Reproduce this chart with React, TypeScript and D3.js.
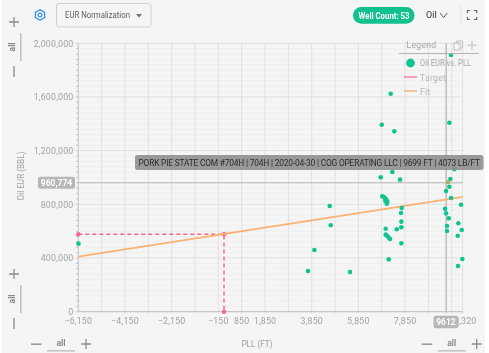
import React from "react";
import * as d3 from "d3";

const xDomain = [-6150, 10320];
const yDomain = [0, 2000000];
const xTickLabels = [-6150, -4150, -2150, -150, 850, 1850, 3850, 5850, 7850, 10320];
const xGridValues = [-5150, -4150, -3150, -2150, -1150, -150, 850, 1850, 2850, 3850, 4850, 5850, 6850, 7850, 8850, 9850];
const yTickLabels = [0, 400000, 800000, 1200000, 1600000, 2000000];
const wellPll = [-6141, 3693, 3963, 4623, 4665, 5492, 7236, 6851, 7391, 9820, 9747, 7305, 6808, 7635, 9962, 9790, 9692, 9747, 9606, 6876, 6962, 7035, 7005, 7091, 7065, 9820, 10249, 7708, 9563, 9606, 7678, 9722, 7691, 10133, 9649, 7691, 7022, 7493, 10279, 9649, 10107, 7022, 7091, 7151, 7206, 7691, 7151, 10304, 10120];
const wellEur = [507000, 303000, 460000, 788000, 644000, 296000, 1624000, 1393000, 1344000, 1913000, 1408000, 1041000, 1001000, 984000, 1061000, 989000, 966000, 931000, 899000, 860000, 852000, 838000, 827000, 820000, 805000, 847000, 797000, 773000, 767000, 733000, 735000, 696000, 671000, 659000, 639000, 629000, 618000, 614000, 609000, 601000, 566000, 574000, 564000, 551000, 542000, 510000, 390000, 393000, 341000];
const hoveredIndex = 16;
const fitPll = [-6150, 10320];
const fitEur = [410000, 855000];
const targetPll = 93;
const targetEur = 577000;
const crossPll = 9612;
const crossEur = 960774;
const tooltipText = "PORK PIE STATE COM #704H | 704H | 2020-04-30 | COG OPERATING LLC | 9699 FT | 4073 LB/FT";

const X0 = 78.3, X1 = 462.7, Y0 = 311.7, Y1 = 43.3;
const x = d3.scaleLinear().domain(xDomain).range([X0, X1]);
const y = d3.scaleLinear().domain(yDomain).range([Y0, Y1]);
const fmt = d3.format(",");
const font = "Roboto, sans-serif";
const GREEN = "#10c492", PINK = "#f8658c", ORANGE = "#fbb270";

const fitLine = d3.line<number>().x((d) => x(d)).y((_, i) => y(fitEur[i]));
const minorY = d3.range(0, 2000001, 40000);

function Plus({ cx, cy }: { cx: number; cy: number }) {
  return <path d={`M${cx - 5} ${cy}H${cx + 5}M${cx} ${cy - 5}V${cy + 5}`} stroke="#8d8d8d" strokeWidth={1.3} fill="none" />;
}

function VZoom({ top }: { top: number }) {
  return (
    <g>
      <Plus cx={14} cy={top} />
      <text transform={`translate(15,${top + 25}) rotate(-90)`} textAnchor="middle" fontSize={8.5} fontWeight={500} fill="#777" fontFamily={font}>all</text>
      <rect x={20} y={top + 11} width={1.6} height={28} fill="#c4c4c4" />
      <rect x={13.2} y={top + 44} width={1.6} height={11} fill="#9a9a9a" />
    </g>
  );
}

function HZoom({ left }: { left: number }) {
  return (
    <g>
      <rect x={left} y={343.4} width={10.5} height={1.6} fill="#9a9a9a" />
      <text x={left + 30} y={346} textAnchor="middle" fontSize={8.5} fontWeight={500} fill="#777" fontFamily={font}>all</text>
      <rect x={left + 16} y={350} width={28} height={1.6} fill="#c4c4c4" />
      <Plus cx={left + 55} cy={344} />
    </g>
  );
}

export default function App() {
  const targetX = x(targetPll), targetY = y(targetEur);
  return (
    <svg width={489} height={353} viewBox="0 0 489 353" style={{ position: "fixed", left: 0, top: 0, display: "block" }}>
      <rect width={489} height={353} fill="#ffffff" />
      <rect x={2} y={0} width={483} height={353} fill="#f5f5f5" />
      <g style={{ filter: "blur(0.3px)" }}>
        {/* grid */}
        {minorY.map((v) => <line key={v} x1={X0} x2={X1} y1={y(v)} y2={y(v)} stroke="#efefef" strokeWidth={1} />)}
        {minorY.map((v) => <line key={"t" + v} x1={X0 - 2} x2={X0} y1={y(v)} y2={y(v)} stroke="#bbbbbb" strokeWidth={1} />)}
        {yTickLabels.map((v) => <line key={v} x1={X0 - 4} x2={X1} y1={y(v)} y2={y(v)} stroke="#e2e2e2" strokeWidth={1} />)}
        {xGridValues.map((v) => <line key={v} x1={x(v)} x2={x(v)} y1={Y1} y2={Y0 + 2} stroke="#e0e0e0" strokeWidth={1} />)}
        <line x1={X1} x2={X1} y1={Y1} y2={Y0 + 2} stroke="#e0e0e0" />
        <line x1={X0} x2={X0} y1={Y1} y2={Y0} stroke="#c4c4c4" strokeWidth={1} />
        <line x1={X0} x2={X1} y1={Y0} y2={Y0} stroke="#c0c0c0" strokeWidth={1} />

        {/* axis labels */}
        {yTickLabels.map((v) => (
          <text key={v} x={73.5} y={y(v) + 3.2} textAnchor="end" fontSize={8.8} letterSpacing={0.2} fill="#a2a2a2" fontFamily={font}>{fmt(v)}</text>
        ))}
        {xTickLabels.map((v) => (
          <text key={v} x={x(v)} y={324} textAnchor="middle" fontSize={8.8} letterSpacing={0.2} fill="#a2a2a2" fontFamily={font}>{v < 0 ? "−" + fmt(-v) : fmt(v)}</text>
        ))}
        <text x={257} y={347} textAnchor="middle" fontSize={8.2} fill="#a2a2a2" fontFamily={font}>PLL (FT)</text>
        <text transform="translate(24,176) rotate(-90)" textAnchor="middle" fontSize={8.2} fill="#a2a2a2" fontFamily={font}>Oil EUR (BBL)</text>

        {/* crosshair */}
        <line x1={X0} x2={X1} y1={y(crossEur)} y2={y(crossEur)} stroke="#b5b5b5" strokeWidth={1} />
        <line x1={x(crossPll)} x2={x(crossPll)} y1={Y1} y2={Y0 + 1} stroke="#b0b0b0" strokeWidth={1.2} />

        {/* target */}
        <path d={`M${X0} ${targetY}H${targetX}V${Y0}`} fill="none" stroke={PINK} strokeWidth={1.4} strokeDasharray="4 3" />
        <circle cx={X0} cy={targetY} r={2.2} fill={PINK} />
        <circle cx={targetX} cy={targetY} r={2.2} fill={PINK} />
        <circle cx={targetX} cy={Y0} r={2.2} fill={PINK} />

        {/* fit */}
        <path d={fitLine(fitPll) || ""} fill="none" stroke={ORANGE} strokeWidth={1.7} />

        {/* points */}
        {wellPll.map((v, i) => (
          <circle key={i} cx={x(v)} cy={y(wellEur[i])} r={2.3} fill={i === hoveredIndex ? "#b8ab64" : GREEN} />
        ))}

        {/* top controls */}
        <g transform="translate(40,15)" fill="none" stroke="#3b97e4" strokeWidth={1.4}>
          <path d="M0 -5.3L4.6 -2.65V2.65L0 5.3L-4.6 2.65V-2.65Z" />
          <circle r={1.9} />
        </g>
        <rect x={56.5} y={3.5} width={94.5} height={23.5} rx={2.5} fill="#f5f5f5" stroke="#cfcfcf" />
        <text x={65} y={18.2} fontSize={9} textLength={65} lengthAdjust="spacingAndGlyphs" fill="#5f5f5f" fontFamily={font}>EUR Normalization</text>
        <path d="M136 14H142L139 17.5Z" fill="#707070" />

        <rect x={353} y={7} width={61.5} height={16.7} rx={8.3} fill="#12c08e" />
        <text x={358.5} y={18.5} fontSize={9} textLength={51} lengthAdjust="spacingAndGlyphs" fontWeight={700} fill="#ffffff" fontFamily={font}>Well Count: 53</text>
        <text x={426} y={18.3} fontSize={9} fontWeight={500} fill="#555" fontFamily={font}>Oil</text>
        <path d="M440 13L443.7 17.5L447.3 13" fill="none" stroke="#555" strokeWidth={1} />
        <line x1={461} x2={461} y1={6} y2={24} stroke="#e2e2e2" strokeWidth={1.2} />
        <path d="M467.5 13V10.5H470M474 10.5H476.7V13M476.7 17V19.5H474M470 19.5H467.5V17" fill="none" stroke="#666" strokeWidth={1.2} />

        {/* legend */}
        <text x={406.5} y={48} fontSize={8.6} letterSpacing={0.3} fill="#a5a5a5" fontFamily={font}>Legend</text>
        <line x1={399} x2={478.5} y1={53.5} y2={53.5} stroke="#b3b3b3" strokeWidth={1} />
        <g fill="none" stroke="#c0c0c0" strokeWidth={1}>
          <rect x={454} y={43} width={6} height={7} />
          <path d="M456.5 43V41H462.5V48H460" />
          <path d="M472 40.5V50M467.5 45.2H476.5" />
        </g>
        <circle cx={410.5} cy={63} r={4.4} fill={GREEN} />
        <text x={420} y={66} fontSize={8.6} textLength={51} lengthAdjust="spacingAndGlyphs" fontWeight={500} fill="#b5b5b5" fontFamily={font}>Oil EUR vs. PLL</text>
        <line x1={404} x2={417} y1={77} y2={77} stroke={PINK} strokeWidth={1.2} />
        <text x={420} y={80.5} fontSize={8.6} letterSpacing={0.3} fill="#b5b5b5" fontFamily={font}>Target</text>
        <line x1={404} x2={417} y1={91} y2={91} stroke="#f9a860" strokeWidth={1.2} />
        <text x={420} y={94.5} fontSize={8.6} letterSpacing={0.3} fill="#b5b5b5" fontFamily={font}>Fit</text>

        {/* tooltip */}
        <rect x={135} y={155} width={348.5} height={15} rx={2.5} fill="#8f8f8f" fillOpacity={0.9} />
        <text x={138.5} y={165.5} fontSize={8.4} textLength={341.5} lengthAdjust="spacing" fill="#2c2c2c" fontFamily={font}>{tooltipText}</text>

        {/* crosshair chips */}
        <rect x={38} y={176.7} width={37} height={12} rx={2.5} fill="#b7b7b7" />
        <text x={56.5} y={186} textAnchor="middle" fontSize={8.5} fontWeight={700} fill="#ffffff" fontFamily={font}>{fmt(crossEur)}</text>
        <rect x={433.5} y={315.7} width={25} height={12.5} rx={2.5} fill="#b7b7b7" />
        <text x={446} y={325.2} textAnchor="middle" fontSize={8.5} fontWeight={700} fill="#ffffff" fontFamily={font}>{crossPll}</text>

        <VZoom top={22} />
        <VZoom top={274} />
        <HZoom left={31} />
        <HZoom left={421.7} />
      </g>
    </svg>
  );
}
